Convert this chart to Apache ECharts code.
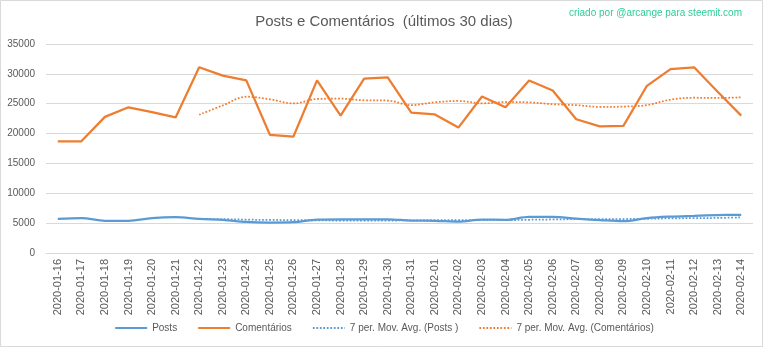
<!DOCTYPE html>
<html>
<head>
<meta charset="utf-8">
<script src="https://cdn.jsdelivr.net/npm/echarts@6/dist/echarts.min.js"></script>
<style>
html,body{margin:0;padding:0;background:#fff;}
#chart{width:768px;height:349px;}
</style>
</head>
<body>
<div id="chart"></div>
<script>
const categories = ['2020-01-16','2020-01-17','2020-01-18','2020-01-19','2020-01-20','2020-01-21','2020-01-22','2020-01-23','2020-01-24','2020-01-25','2020-01-26','2020-01-27','2020-01-28','2020-01-29','2020-01-30','2020-01-31','2020-02-01','2020-02-02','2020-02-03','2020-02-04','2020-02-05','2020-02-06','2020-02-07','2020-02-08','2020-02-09','2020-02-10','2020-02-11','2020-02-12','2020-02-13','2020-02-14'];
const posts = [5700,5850,5400,5400,5850,6000,5700,5550,5200,5100,5150,5600,5650,5650,5650,5430,5400,5270,5600,5550,6050,6050,5750,5500,5330,5850,6100,6230,6350,6400];
const comentarios = [18700,18700,22800,24400,23600,22700,31100,29700,28900,19800,19500,28900,23000,29200,29400,23500,23200,21000,26200,24400,28900,27200,22400,21200,21300,28000,30800,31100,27000,23000];
const maPosts = [null,null,null,null,null,null,5700,5679,5586,5543,5507,5471,5421,5414,5429,5461,5504,5521,5521,5507,5564,5621,5667,5681,5690,5726,5804,5830,5873,5964];
const maComentarios = [null,null,null,null,null,null,23143,24714,26171,25743,25043,25800,25843,25571,25529,24757,25243,25457,25071,25271,25229,24914,24757,24471,24514,24771,25686,26000,25971,26057];
const yTicks = [0,5000,10000,15000,20000,25000,30000,35000];

const FONT = '"Liberation Sans", Arial, sans-serif';
const TXT = '#595959';
const BLUE = '#5B9BD5';
const ORANGE = '#ED7D31';

const chart = echarts.init(document.getElementById('chart'), null, {renderer:'canvas'});
chart.setOption({
  animation: false,
  backgroundColor: '#fff',
  textStyle: {fontFamily: FONT},
  graphic: [
    {type:'rect', shape:{x:0.5,y:0.5,width:762,height:346}, style:{fill:'none', stroke:'#D9D9D9', lineWidth:1}, silent:true},
    {type:'text', right: 26, top: 8, style:{text:'criado por @arcange para steemit.com', fill:'#2FCC98', font:'10px "Liberation Sans", sans-serif'}}
  ],
  title: {
    text: 'Posts e Comentários  (últimos 30 dias)',
    left: 'center', top: 9,
    textStyle: {fontFamily: FONT, fontSize: 15, fontWeight: 'normal', color: TXT}
  },
  legend: {
    bottom: 11, left: 'center',
    itemWidth: 32, itemHeight: 10, itemGap: 20,
    itemStyle: {opacity: 0},
    textStyle: {fontFamily: FONT, fontSize: 10, color: TXT},
    data: ['Posts','Comentários','7 per. Mov. Avg. (Posts )','7 per. Mov. Avg. (Comentários)']
  },
  grid: {left: 46, right: 15, top: 44, bottom: 96, containLabel: false},
  xAxis: {
    type: 'category', data: categories, boundaryGap: true,
    axisLine: {show: true, lineStyle: {color: '#D9D9D9'}},
    axisTick: {show: false},
    axisLabel: {rotate: 90, interval: 0, fontSize: 11, color: TXT, margin: 6, fontFamily: FONT}
  },
  yAxis: {
    type: 'value', min: yTicks[0], max: yTicks[yTicks.length-1], interval: 5000,
    axisLine: {show: false}, axisTick: {show: false},
    axisLabel: {fontSize: 10, color: TXT, margin: 11, fontFamily: FONT, formatter: v => String(v)},
    splitLine: {lineStyle: {color: '#D9D9D9', width: 1}}
  },
  series: [
    {name:'Posts', type:'line', data: posts, symbol:'none', smooth: 0.35, lineStyle:{color: BLUE, width: 2.25}, itemStyle:{color: BLUE}},
    {name:'Comentários', type:'line', data: comentarios, symbol:'none', lineStyle:{color: ORANGE, width: 2.25}, itemStyle:{color: ORANGE}},
    {name:'7 per. Mov. Avg. (Posts )', type:'line', data: maPosts, symbol:'none', smooth: 0.35, lineStyle:{color: BLUE, width: 1.75, type:[1.75,1.75]}, itemStyle:{color: BLUE}},
    {name:'7 per. Mov. Avg. (Comentários)', type:'line', data: maComentarios, symbol:'none', smooth: 0.35, lineStyle:{color: ORANGE, width: 1.75, type:[1.75,1.75]}, itemStyle:{color: ORANGE}}
  ]
});
</script>
</body>
</html>
